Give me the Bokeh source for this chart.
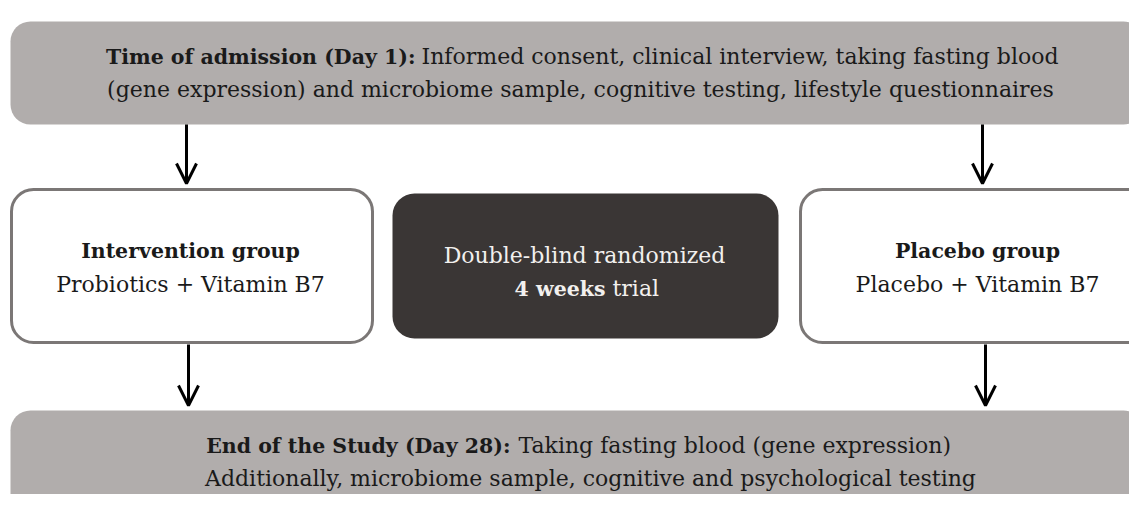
from bokeh.plotting import figure
from bokeh.models import Range1d, Arrow, OpenHead
from bokeh.embed import file_html
from bokeh.resources import INLINE
from bokeh.core.properties import value

# ---- content ----
top_bold = "Time of admission (Day 1):"
top_rest = "Informed consent, clinical interview, taking fasting blood"
top_line2 = "(gene expression) and microbiome sample, cognitive testing, lifestyle questionnaires"

group_titles = ["Intervention group", "Placebo group"]
group_subs = ["Probiotics + Vitamin B7", "Placebo + Vitamin B7"]

trial_line1 = "Double-blind randomized"
trial_bold = "4 weeks"
trial_rest = "trial"

end_bold = "End of the Study (Day 28):"
end_rest = "Taking fasting blood (gene expression)"
end_line2 = "Additionally, microbiome sample, cognitive and psychological testing"

# ---- layout (pixel-like coordinates, y measured upward from image bottom) ----
W, H = 1129, 494
p = figure(width=W, height=H, x_range=Range1d(0, W), y_range=Range1d(510 - H, 510),
           output_backend="svg", toolbar_location=None, min_border=0)
p.axis.visible = False
p.grid.visible = False
p.outline_line_color = None
p.background_fill_color = "white"
p.border_fill_color = "white"

FONT = value("DejaVu Serif")
FS_N = "22px"
FS_B = "20.5px"
GREY = "#b1adac"
DARK = "#3a3635"
EDGE = "#7b7776"

# grey wide boxes (top and bottom)
p.quad(left=[10, 10], right=[1143, 1143], top=[489, 100], bottom=[386, -30],
       fill_color=GREY, line_color=None, border_radius=20)
# white group boxes
p.quad(left=[11, 800], right=[372, 1150], top=[321, 321], bottom=[168, 168],
       fill_color="white", line_color=EDGE, line_width=3, border_radius=22)
# dark central box
p.quad(left=[392], right=[778], top=[317], bottom=[172],
       fill_color=DARK, line_color=None, border_radius=22)

# arrows
arrow_x_top = [186, 982]
arrow_x_bot = [188, 985]
for xs, y0, y1 in [(arrow_x_top, 386, 327), (arrow_x_bot, 166, 105)]:
    for x in xs:
        p.add_layout(Arrow(x_start=x, y_start=y0, x_end=x, y_end=y1,
                           line_width=3, line_color="black",
                           end=OpenHead(size=20, line_width=3, line_color="black")))

def txt(x, y, s, align="center", bold=False, color="#1a1a1a"):
    p.text(x=[x], y=[y], text=[s], text_font=FONT,
           text_font_size=FS_B if bold else FS_N,
           text_font_style="bold" if bold else "normal",
           text_align=align, text_baseline="alphabetic", text_color=color)

# top box
txt(415, 454, top_bold, align="right", bold=True)
txt(421, 454, top_rest, align="left")
txt(580, 421, top_line2)

# group boxes
for cx, t, s in zip([190, 977], group_titles, group_subs):
    txt(cx, 260, t, bold=True)
    txt(cx, 226, s)

# dark box
LIGHT = "#f2f0ee"
txt(584, 255, trial_line1, color=LIGHT)
txt(605, 222, trial_bold, align="right", bold=True, color=LIGHT)
txt(612, 222, trial_rest, align="left", color=LIGHT)

# bottom box
txt(510, 65, end_bold, align="right", bold=True)
txt(518, 65, end_rest, align="left")
txt(590, 32, end_line2)

open("out.html", "w").write(file_html(p, INLINE))
